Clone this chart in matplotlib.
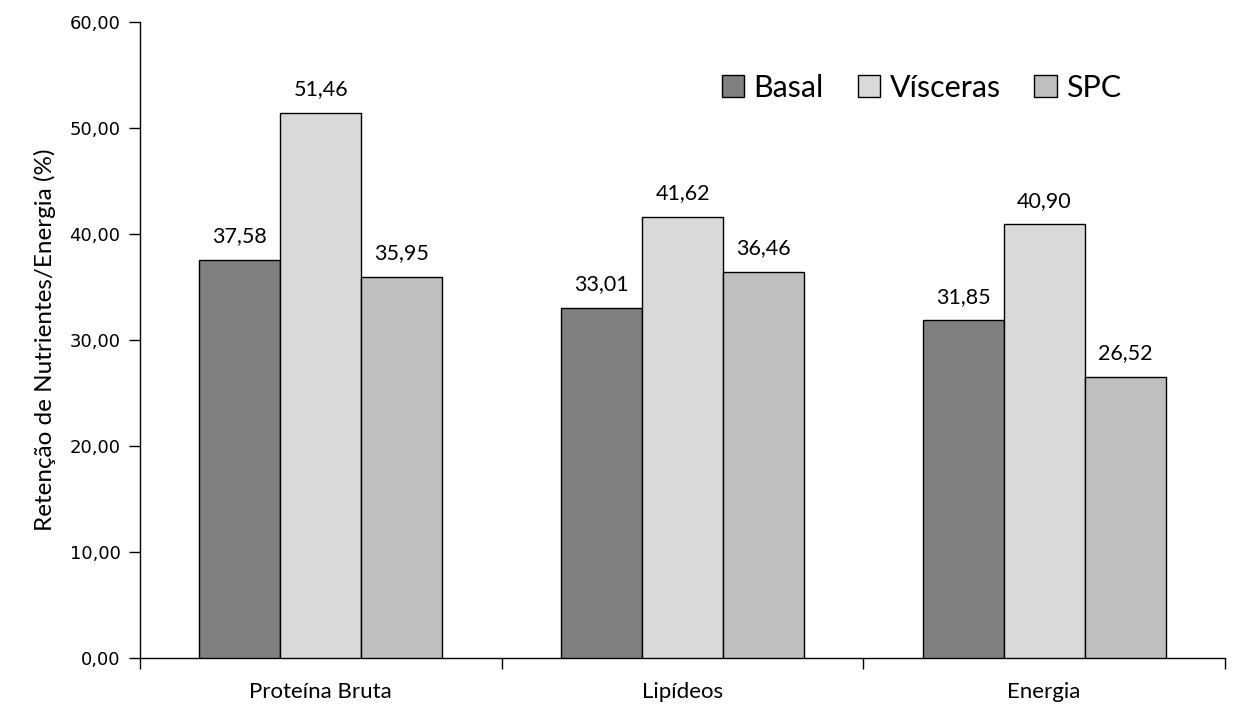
import numpy as np
import matplotlib.pyplot as plt
from matplotlib.ticker import FuncFormatter

# retention data (%)
categories = ["Proteína Bruta", "Lipídeos", "Energia"]
series_names = ["Basal", "Vísceras", "SPC"]
basal = [37.58, 33.01, 31.85]
visceras = [51.46, 41.62, 40.90]
spc = [35.95, 36.46, 26.52]

colors = ["#808080", "#d9d9d9", "#bfbfbf"]
txt_font = ["Lato", "DejaVu Sans"]

fig = plt.figure(figsize=(12.33, 7.10), dpi=100)
ax = fig.add_axes([140 / 1233, 1 - 658 / 710, (1225 - 140) / 1233, (658 - 22) / 710])

x = np.arange(len(categories))
width = 0.224
for i, (name, vals) in enumerate(zip(series_names, [basal, visceras, spc])):
    pos = x + (i - 1) * width
    bars = ax.bar(pos, vals, width, color=colors[i], edgecolor="black",
                  linewidth=1.0, label=name, zorder=3)
    for b, v in zip(bars, vals):
        ax.text(b.get_x() + b.get_width() / 2, v + 1.3,
                f"{v:.2f}".replace(".", ","), ha="center", va="bottom",
                fontsize=15.5, family=txt_font)

ax.set_xlim(-0.5, len(categories) - 0.5)
ax.set_ylim(0, 60)
ax.set_yticks(np.arange(0, 61, 10))
ax.yaxis.set_major_formatter(FuncFormatter(lambda v, p: f"{v:.2f}".replace(".", ",")))

# category boundaries carry the x tick marks, names go in the middle
ax.set_xticks(np.arange(-0.5, len(categories), 1.0))
ax.set_xticklabels([])
ax.set_xticks(x, minor=True)
ax.set_xticklabels(categories, minor=True, fontsize=16, family=txt_font)
ax.tick_params(axis="x", which="minor", length=0, pad=17)
ax.tick_params(axis="x", which="major", length=8, width=1, direction="out")
ax.tick_params(axis="y", length=8, width=1, direction="out", labelsize=13, pad=6)

for s in ["top", "right"]:
    ax.spines[s].set_visible(False)
ax.spines["left"].set_linewidth(1)
ax.spines["bottom"].set_linewidth(1)

ax.set_ylabel("Retenção de Nutrientes/Energia (%)", fontsize=17.5,
              family=txt_font, labelpad=10)

ax.legend(loc="upper right", bbox_to_anchor=(0.93, 0.962), ncol=3, frameon=False,
          prop={"family": txt_font, "size": 22}, handlelength=0.75,
          handleheight=0.75, handletextpad=0.3, columnspacing=1.1)

fig.savefig("out.png", dpi=100)
